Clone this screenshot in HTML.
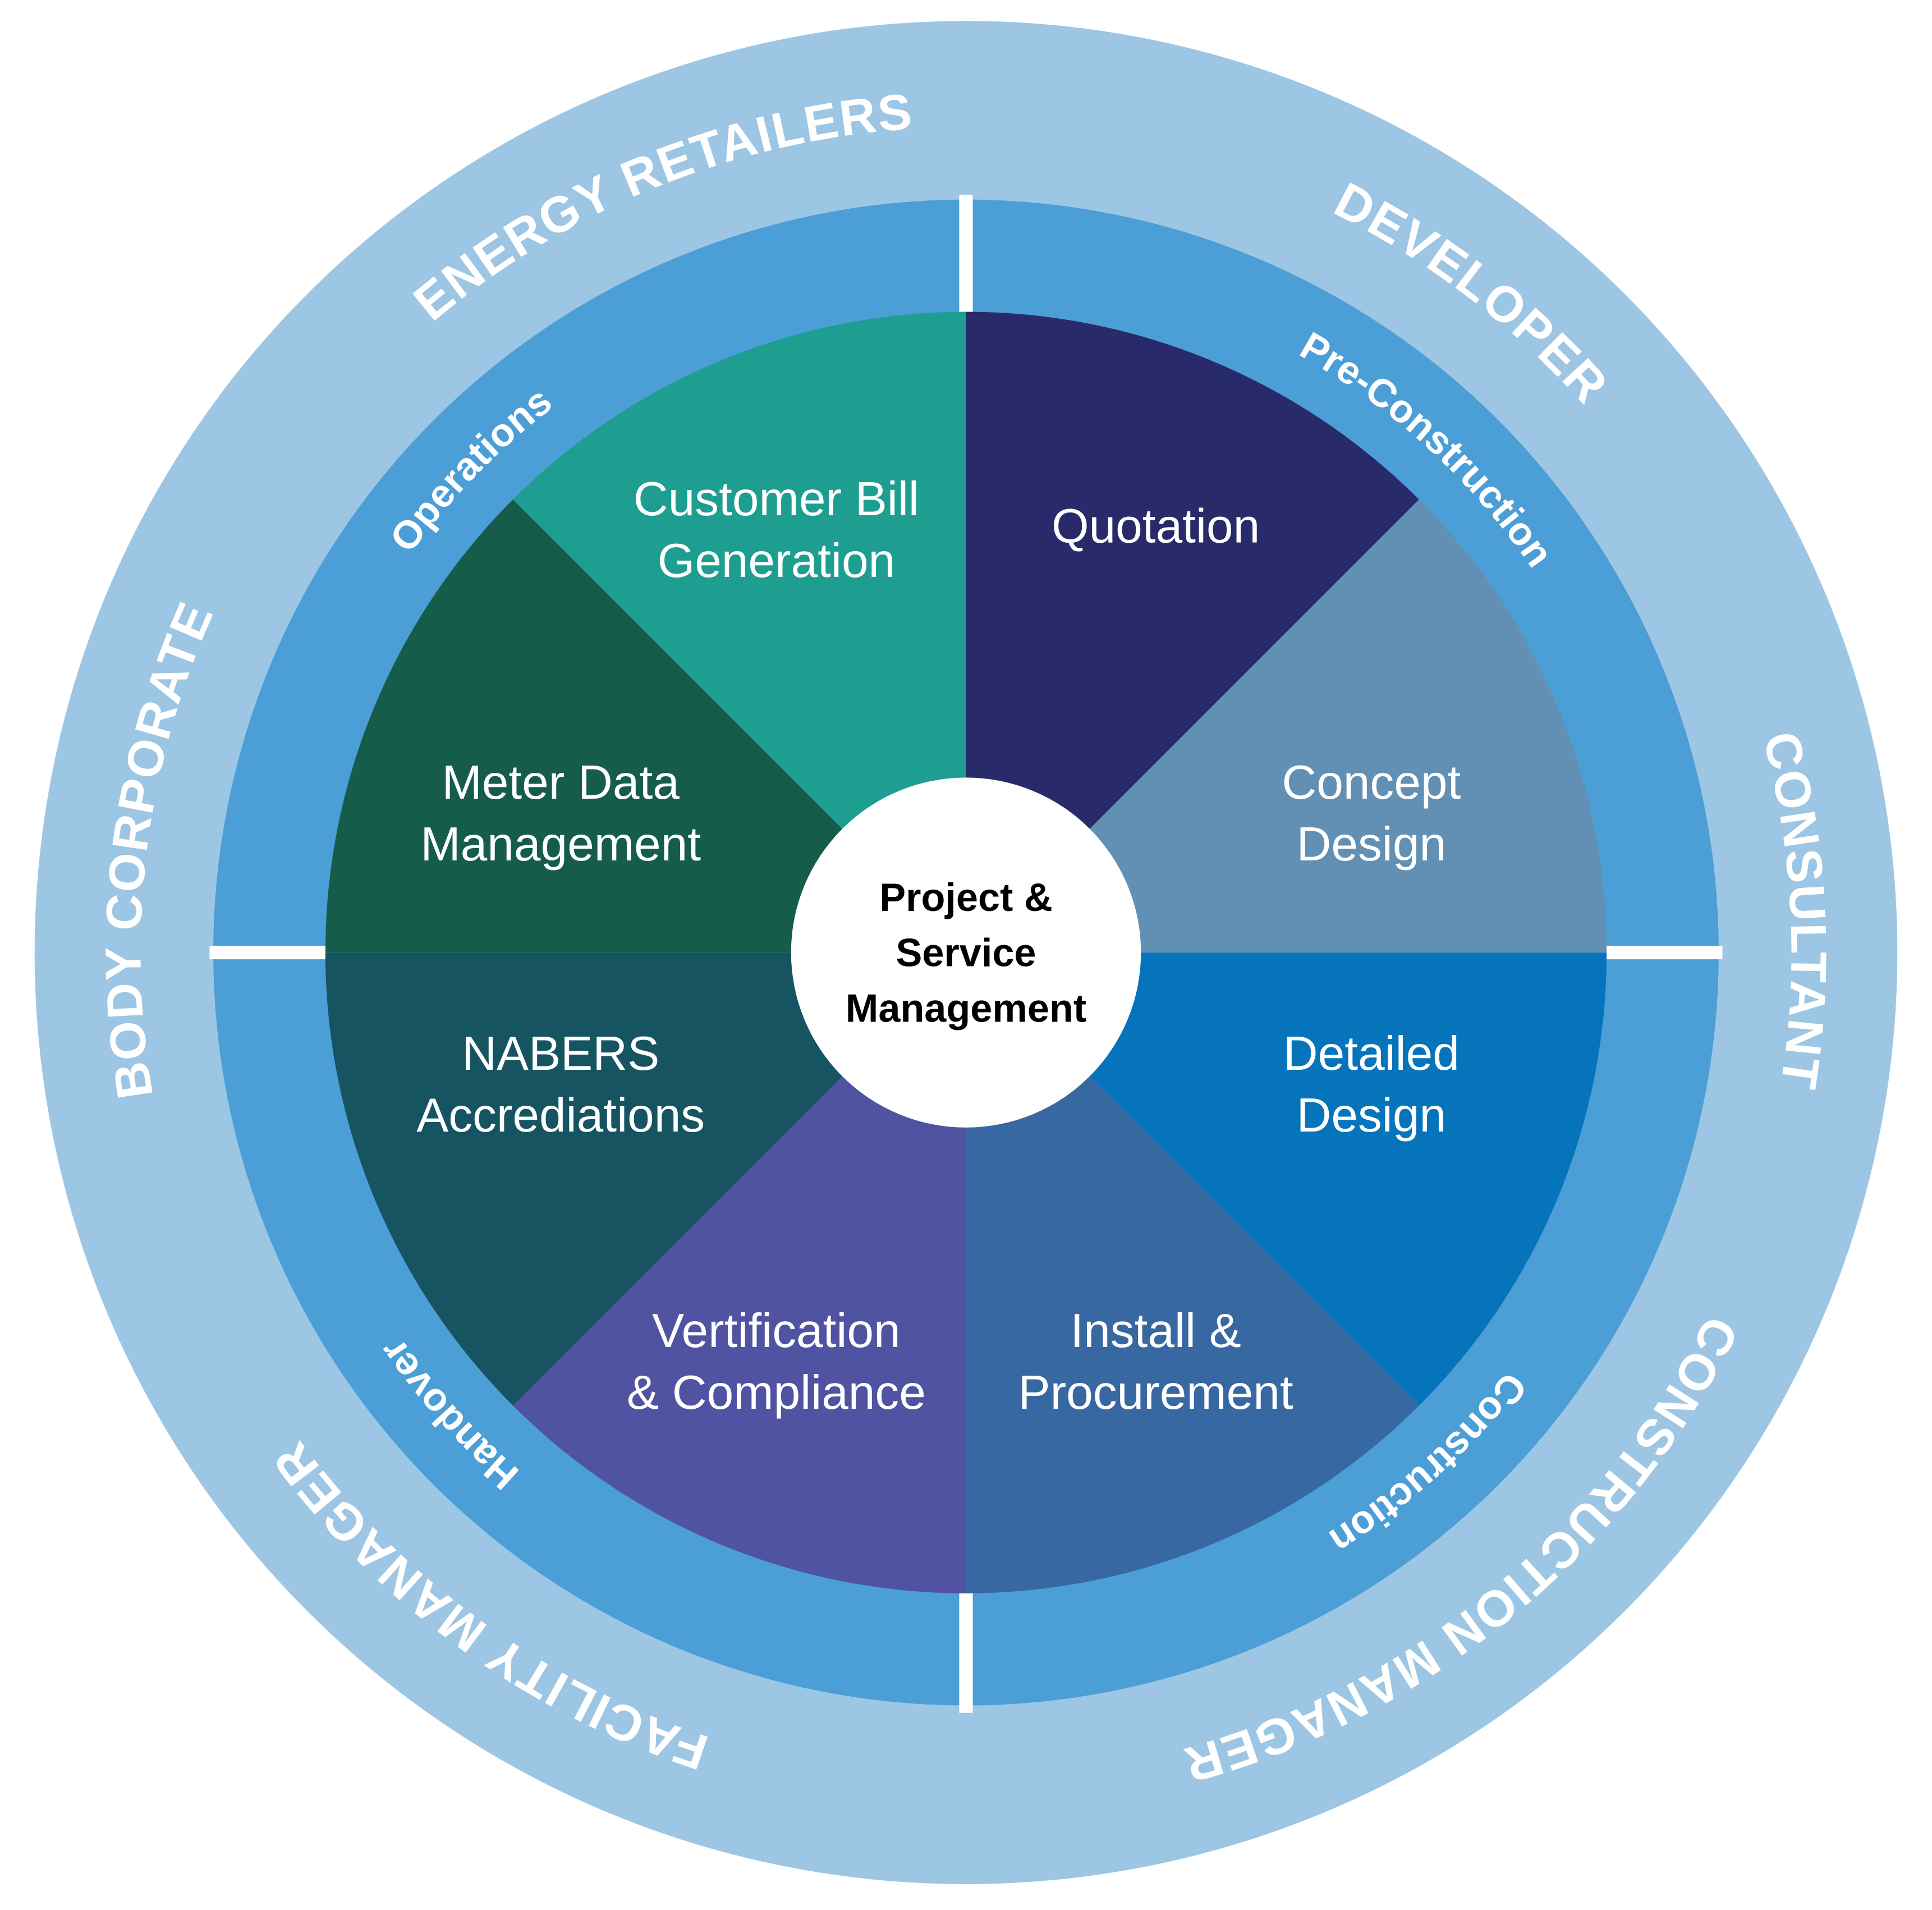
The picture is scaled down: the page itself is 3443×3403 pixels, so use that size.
<!DOCTYPE html>
<html><head><meta charset="utf-8"><style>
html,body{margin:0;padding:0;background:#fff}
svg{display:block}
text{font-family:"Liberation Sans",sans-serif}
</style></head><body>
<svg width="3443" height="3403" viewBox="0 0 1568 1550" xmlns="http://www.w3.org/2000/svg">
<defs>
<path id="po" d="M784,1443 A670,670 0 1 1 784,103 A670,670 0 1 1 784,1443"/>
<path id="pi" d="M784,1328 A555,555 0 1 1 784,218 A555,555 0 1 1 784,1328"/>
</defs>
<circle cx="784" cy="773" r="756" fill="#9CC6E3"/>
<circle cx="784" cy="773" r="611" fill="#4B9ED6"/>
<g stroke="#fff" stroke-width="11">
<line x1="784" y1="158" x2="784" y2="1390"/>
<line x1="170" y1="773" x2="1398" y2="773"/>
</g>
<path d="M784,773 L784,253 A520,520 0 0 1 1151.7,405.3 Z" fill="#292A69"/>
<path d="M784,773 L1151.7,405.3 A520,520 0 0 1 1304,773 Z" fill="#6290B4"/>
<path d="M784,773 L1304,773 A520,520 0 0 1 1151.7,1140.7 Z" fill="#0674BB"/>
<path d="M784,773 L1151.7,1140.7 A520,520 0 0 1 784,1293 Z" fill="#3768A2"/>
<path d="M784,773 L784,1293 A520,520 0 0 1 416.3,1140.7 Z" fill="#4F53A2"/>
<path d="M784,773 L416.3,1140.7 A520,520 0 0 1 264,773 Z" fill="#165461"/>
<path d="M784,773 L264,773 A520,520 0 0 1 416.3,405.3 Z" fill="#165C4B"/>
<path d="M784,773 L416.3,405.3 A520,520 0 0 1 784,253 Z" fill="#1D9E91"/>
<circle cx="784" cy="773" r="142" fill="#fff"/>
<g fill="#000" font-weight="bold" font-size="32" text-anchor="middle" dominant-baseline="central">
<text x="784" y="728">Project &amp;</text>
<text x="784" y="773">Service</text>
<text x="784" y="818">Management</text>
</g>
<g fill="#fff" font-size="39" text-anchor="middle" dominant-baseline="central">
<text x="938" y="427">Quotation</text>
<text x="630" y="405">Customer Bill</text><text x="630" y="455">Generation</text>
<text x="1113" y="635">Concept</text><text x="1113" y="685">Design</text>
<text x="455" y="635">Meter Data</text><text x="455" y="685">Management</text>
<text x="455" y="855">NABERS</text><text x="455" y="905">Accrediations</text>
<text x="1113" y="855">Detailed</text><text x="1113" y="905">Design</text>
<text x="630" y="1080">Vertification</text><text x="630" y="1130">&amp; Compliance</text>
<text x="938" y="1080">Install &amp;</text><text x="938" y="1130">Procurement</text>
</g>
<g fill="#fff" font-size="41" font-weight="bold" letter-spacing="1" text-anchor="middle">
<text><textPath href="#po" startOffset="27%">BODY CORPORATE</textPath></text>
<text><textPath href="#po" startOffset="43.9%">ENERGY RETAILERS</textPath></text>
<text><textPath href="#po" startOffset="60.4%">DEVELOPER</textPath></text>
<text><textPath href="#po" startOffset="74.2%">CONSULTANT</textPath></text>
<text><textPath href="#po" startOffset="89%">CONSTRUCTION MANAGER</textPath></text>
<text><textPath href="#po" startOffset="10%">FACILITY MANAGER</textPath></text>
</g>
<g fill="#fff" font-size="32" font-weight="bold" text-anchor="middle">
<text><textPath href="#pi" startOffset="37.3%">Operations</textPath></text>
<text><textPath href="#pi" startOffset="61.8%">Pre-Construction</textPath></text>
<text><textPath href="#pi" startOffset="88.3%">Construction</textPath></text>
<text><textPath href="#pi" startOffset="13.4%">Handover</textPath></text>
</g>
</svg>
</body></html>
